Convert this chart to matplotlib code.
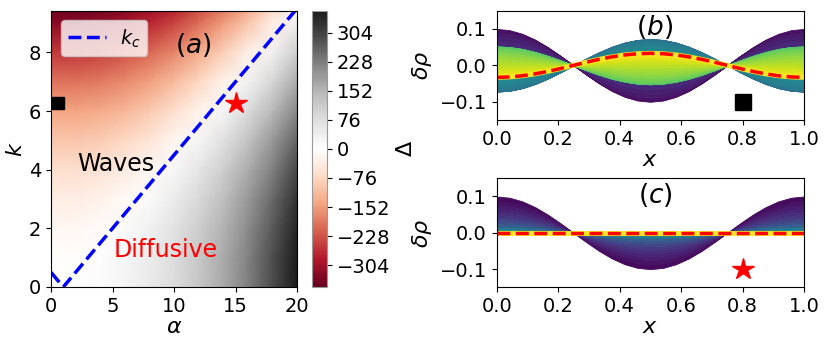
import matplotlib
matplotlib.use("Agg")
import matplotlib.pyplot as plt
import numpy as np

# --- panel (a): growth discriminant Delta on the (alpha, k) plane
alpha_nodes = [0, 2, 4, 6, 8, 10, 12, 14, 16, 18, 20]
k_nodes = [0, 1, 2, 3, 4, 5, 6, 7, 8, 9, 3*np.pi]
delta_grid = [
    [1, 1, 9, 25, 49, 81, 121, 169, 225, 289, 361],
    [-3, -3, 5, 21, 45, 77, 117, 165, 221, 285, 357],
    [-15, -15, -7, 9, 33, 65, 105, 153, 209, 273, 345],
    [-35, -35, -27, -11, 13, 45, 85, 133, 189, 253, 325],
    [-63, -63, -55, -39, -15, 17, 57, 105, 161, 225, 297],
    [-99, -99, -91, -75, -51, -19, 21, 69, 125, 189, 261],
    [-143, -143, -135, -119, -95, -63, -23, 25, 81, 145, 217],
    [-195, -195, -187, -171, -147, -115, -75, -27, 29, 93, 165],
    [-255, -255, -247, -231, -207, -175, -135, -87, -31, 33, 105],
    [-323, -323, -315, -299, -275, -243, -203, -155, -99, -35, 37],
    [-354, -354, -346, -330, -306, -274, -234, -186, -130, -66, 6],
]
cbar_ticks = [-304, -228, -152, -76, 0, 76, 152, 228, 304]

# critical wavenumber k_c(alpha)
kc_alpha = [0, 1, 20]
kc_k = [0.5, 0, 9.5]

# chosen parameter points
square_pt = (0.6, 2*np.pi)
star_pt = (15, 2*np.pi)

# --- panels (b), (c): density perturbation snapshots
x_prof = [i/24 for i in range(25)]
mode = [1, .966, .866, .707, .5, .259, 0, -.259, -.5, -.707, -.866, -.966, -1,
        -.966, -.866, -.707, -.5, -.259, 0, .259, .5, .707, .866, .966, 1]

amp_waves = [.1000, .0961, .0887, .0782, .0651, .0501, .0338, .0169, 0,
             -.0162, -.0312, -.0443, -.0553, -.0637, -.0693, -.0721, -.0720,
             -.0692, -.0638, -.0563, -.0469, -.0361, -.0244, -.0122, 0,
             .0117, .0224, .0319, .0398, .0458, .0499, .0519, .0518, .0498,
             .0460, .0405, .0338, .0260, .0175, .0088, 0, -.0084, -.0162,
             -.0230, -.0287, -.0330]
amp_diff = [.1000, .0866, .0750, .0650, .0563, .0487, .0422, .0366, .0317,
            .0274, .0238, .0206, .0178, .0154, .0134, .0116, .0100, .0087,
            .0075, .0065, .0056, .0049, .0042, .0036, .0032, .0027, .0024,
            .0021, .0018, .0015, .0013, .0012, .0010, .0009, .0008, .0006,
            .0006, .0005, .0004, .0004, 0.0]

W, H = 830, 346
fig = plt.figure(figsize=(W/100, H/100), dpi=100)
plt.rcParams['font.size'] = 14

def box(l, t, r, b):
    return [l/W, 1 - b/H, (r - l)/W, (b - t)/H]

a0 = fig.add_axes(box(51, 10.7, 297, 287))
cax = fig.add_axes(box(312, 10.7, 327, 287))
a1 = fig.add_axes(box(496.7, 10.7, 804, 120))
a2 = fig.add_axes(box(496.7, 178.3, 804, 287.3))

mesh = a0.pcolormesh(alpha_nodes, k_nodes, np.array(delta_grid), cmap="RdGy",
                     vmin=-361, vmax=361, shading="gouraud", rasterized=True)
a0.plot(kc_alpha, kc_k, color="blue", linestyle="--", linewidth=2.5, label="$k_c$")
a0.plot(*square_pt, marker="s", color="black", markersize=9)
a0.plot(*star_pt, marker="*", color="red", markersize=16)
a0.text(11.6, 8.25, "$(a)$", fontsize=19, ha="center", va="center")
a0.text(5.3, 4.2, "Waves", fontsize=17, ha="center", va="center", color="black")
a0.text(9.3, 1.25, "Diffusive", fontsize=17, ha="center", va="center", color="red")
a0.set_xlim(0, 20)
a0.set_ylim(0, 3*np.pi)
a0.set_xticks([0, 5, 10, 15, 20])
a0.set_yticks([0, 2, 4, 6, 8])
a0.set_xlabel(r"$\alpha$", fontsize=16, labelpad=1)
a0.set_ylabel("$k$", fontsize=16, labelpad=2)
a0.legend(loc="upper left", fontsize=14, handlelength=2.0, borderpad=0.35,
          handletextpad=0.7)

cb = fig.colorbar(mesh, cax=cax, ticks=cbar_ticks)
cb.set_label(r"$\Delta$", fontsize=16, labelpad=4)
cb.outline.set_edgecolor("#999999")

cmap = plt.get_cmap("viridis")
xp = np.array(x_prof)
mp = np.array(mode)

def snapshots(ax, amps):
    n = len(amps)
    for i in range(n - 1):
        c = cmap((i + 1)/(n - 1))
        ax.fill_between(xp, amps[i]*mp, amps[i + 1]*mp, color=c, linewidth=0.6,
                        edgecolor=c)
    ax.plot(xp, amps[-1]*mp, color=cmap(1.0), linewidth=3.5)
    ax.plot(xp, amps[-1]*mp, color="red", linestyle="--", linewidth=2.5)
    ax.set_xlim(0, 1)
    ax.set_ylim(-0.15, 0.15)
    ax.set_xticks([0, 0.2, 0.4, 0.6, 0.8, 1.0])
    ax.set_yticks([-0.1, 0, 0.1])
    ax.set_xlabel("$x$", fontsize=16, labelpad=1)
    ax.set_ylabel(r"$\delta\rho$", fontsize=16)

snapshots(a1, amp_waves)
a1.plot(0.8, -0.1, marker="s", color="black", markersize=12)
a1.text(0.515, 0.106, "$(b)$", fontsize=19, ha="center", va="center")

snapshots(a2, amp_diff)
a2.plot(0.8, -0.1, marker="*", color="red", markersize=16)
a2.text(0.515, 0.104, "$(c)$", fontsize=19, ha="center", va="center")

plt.savefig("out.png", dpi=100)
